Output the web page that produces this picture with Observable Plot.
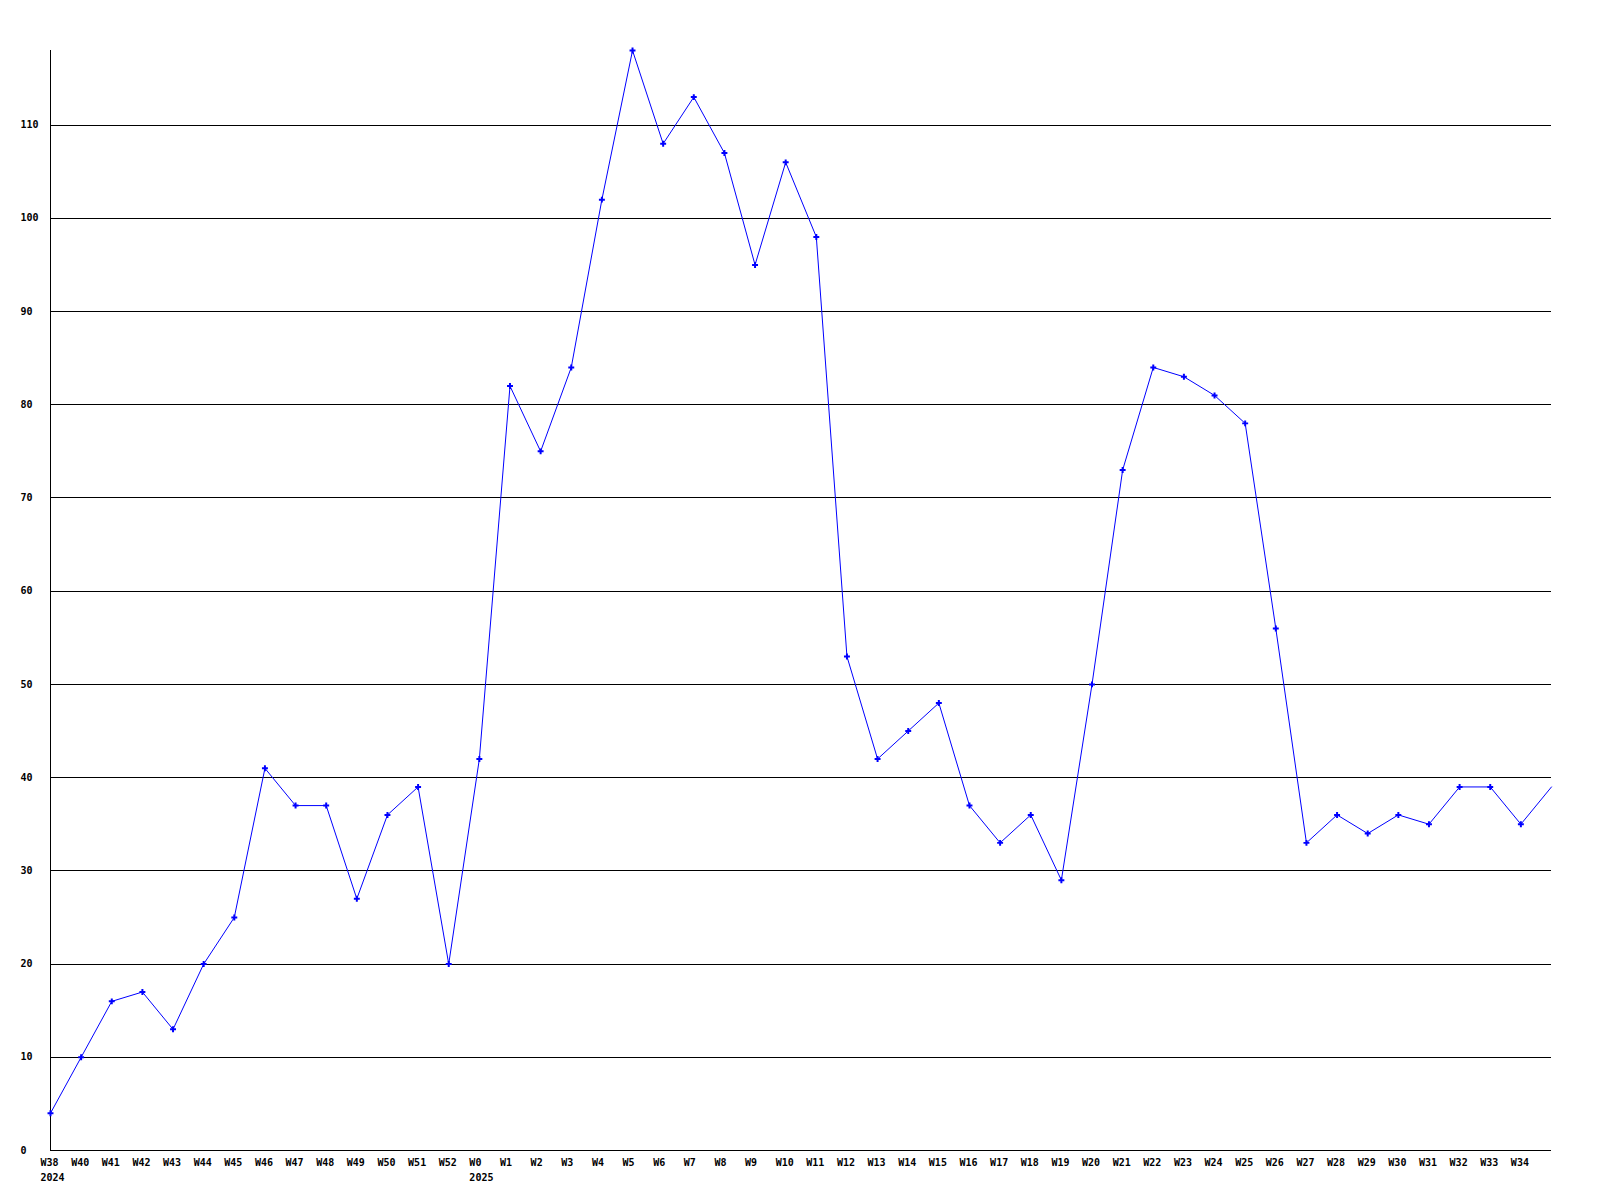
<!DOCTYPE html>
<html>
<head>
<meta charset="utf-8">
<script src="https://cdn.jsdelivr.net/npm/d3@7"></script>
<script src="https://cdn.jsdelivr.net/npm/@observablehq/plot@0.6"></script>
<style>
  html, body { margin: 0; padding: 0; background: #fff; }
  #chart svg { display: block; }
</style>
</head>
<body>
<div id="chart"></div>
<script>
const weeks = ["W38","W40","W41","W42","W43","W44","W45","W46","W47","W48","W49","W50","W51","W52",
  "W0","W1","W2","W3","W4","W5","W6","W7","W8","W9","W10","W11","W12","W13","W14","W15","W16","W17",
  "W18","W19","W20","W21","W22","W23","W24","W25","W26","W27","W28","W29","W30","W31","W32","W33","W34","W35"];
const values = [4,10,16,17,13,20,25,41,37,37,27,36,39,20,
  42,82,75,84,102,118,108,113,107,95,106,98,53,42,45,48,37,33,
  36,29,50,73,84,83,81,78,56,33,36,34,36,35,39,39,35,39];
const yearLabels = [{week: "W38", year: "2024"}, {week: "W0", year: "2025"}];
const labeledWeeks = weeks.slice(0, 49);
const yTicks = [0,10,20,30,40,50,60,70,80,90,100,110];
const gridTicks = [10,20,30,40,50,60,70,80,90,100,110];

const data = weeks.map((w, i) => ({i, week: w, value: values[i]}));
const idx = w => weeks.indexOf(w);

const chart = Plot.plot({
  width: 1600,
  height: 1200,
  marginLeft: 50,
  marginRight: 49,
  marginTop: 50,
  marginBottom: 50,
  style: {fontFamily: "'DejaVu Sans Mono', monospace", fontSize: "10px", fontWeight: "bold", background: "#fff", color: "#000"},
  x: {type: "linear", domain: [0, weeks.length - 1]},
  y: {domain: [0, 118]},
  marks: [
    Plot.gridY(gridTicks, {stroke: "#000", strokeOpacity: 1, strokeWidth: 1, shapeRendering: "crispEdges"}),
    Plot.ruleY([0], {stroke: "#000", shapeRendering: "crispEdges"}),
    Plot.ruleX([0], {stroke: "#000", shapeRendering: "crispEdges"}),
    Plot.axisY({ticks: yTicks, tickSize: 0, tickPadding: 30, textAnchor: "start", label: null, fill: "#000"}),
    Plot.axisX({ticks: labeledWeeks.map(idx), tickFormat: i => weeks[i], tickSize: 0, tickPadding: 8, textAnchor: "start", dx: -10, label: null, fill: "#000"}),
    Plot.axisX({ticks: yearLabels.map(d => idx(d.week)), tickFormat: i => yearLabels.find(d => idx(d.week) === i).year, tickSize: 0, tickPadding: 23, textAnchor: "start", dx: -10, label: null, fill: "#000"}),
    Plot.line(data, {x: "i", y: "value", stroke: "#0000ff", strokeWidth: 1}),
    Plot.dot(data.slice(0, 49), {x: "i", y: "value", symbol: "cross", r: 2.5, fill: "#0000ff", stroke: "none"})
  ]
});
document.getElementById("chart").appendChild(chart);
</script>
</body>
</html>
